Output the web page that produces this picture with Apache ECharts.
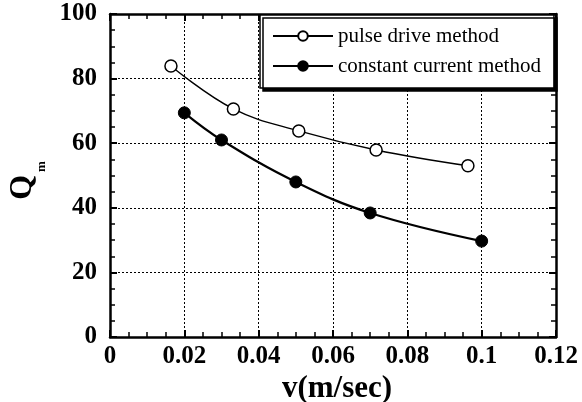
<!DOCTYPE html>
<html>
<head>
<meta charset="utf-8">
<script src="https://cdn.jsdelivr.net/npm/echarts@6/dist/echarts.min.js"></script>
<style>html,body{margin:0;padding:0;background:#fff}#c{width:582px;height:402px}</style>
</head>
<body>
<div id="c"></div>
<script>
const xTicks = [0, 0.02, 0.04, 0.06, 0.08, 0.1, 0.12];
const yTicks = [0, 20, 40, 60, 80, 100];
const pulseV = [0.0164, 0.0332, 0.0508, 0.0716, 0.0963];
const pulseQ = [83.9, 70.6, 63.8, 57.9, 53.0];
const constV = [0.020, 0.030, 0.050, 0.070, 0.100];
const constQ = [69.4, 61.0, 48.0, 38.4, 29.7];
const seriesNames = ['pulse drive method', 'constant current method'];

const FONT = '"Liberation Serif", "Times New Roman", serif';
const chart = echarts.init(document.getElementById('c'), null, {renderer: 'canvas'});

function axisCommon(show) {
  return {
    type: 'value',
    axisLine: {show: true, onZero: false, lineStyle: {color: '#000', width: 2.5}},
    axisTick: {show: true, inside: true, length: 7, lineStyle: {color: '#000', width: 2}},
    minorTick: {show: true, splitNumber: 4, length: 5, lineStyle: {color: '#000', width: 1.5}},
    axisLabel: {show: show, color: '#000', fontFamily: FONT, fontWeight: 'bold', fontSize: 25},
    splitLine: {show: false}
  };
}

const xBottom = Object.assign(axisCommon(true), {
  position: 'bottom', min: xTicks[0], max: xTicks[xTicks.length - 1], interval: 0.02,
  name: 'v(m/sec)', nameLocation: 'middle', nameGap: 33,
  nameTextStyle: {color: '#000', fontFamily: FONT, fontWeight: 'bold', fontSize: 31, padding: [0, 0, 0, 8]},
  splitLine: {show: true, lineStyle: {color: '#000', type: [2, 2], width: 1}}
});
xBottom.axisLabel.margin = 7;
const xTop = Object.assign(axisCommon(false), {
  position: 'top', min: xTicks[0], max: xTicks[xTicks.length - 1], interval: 0.02
});
const yLeft = Object.assign(axisCommon(true), {
  position: 'left', min: yTicks[0], max: yTicks[yTicks.length - 1], interval: 20,
  name: '{q|Q}{m|m}', nameLocation: 'middle', nameGap: 71, nameRotate: 90,
  nameTextStyle: {
    color: '#000', fontFamily: FONT, fontWeight: 'bold', padding: [0, 10, 0, 0],
    rich: {
      q: {fontSize: 32, lineHeight: 32, fontFamily: FONT, fontWeight: 'bold', color: '#000'},
      m: {fontSize: 13, lineHeight: 13, fontFamily: FONT, fontWeight: 'bold', color: '#000', padding: [38, 0, 0, 3]}
    }
  },
  splitLine: {show: true, lineStyle: {color: '#000', type: [2, 2], width: 1}}
});
yLeft.axisLabel.margin = 13;
const yRight = Object.assign(axisCommon(false), {
  position: 'right', min: yTicks[0], max: yTicks[yTicks.length - 1], interval: 20
});

chart.setOption({
  animation: false,
  backgroundColor: '#fff',
  grid: {left: 110, right: 26, top: 14, bottom: 65, containLabel: false, outerBoundsMode: 'none'},
  xAxis: [xBottom, xTop],
  yAxis: [yLeft, yRight],
  legend: {
    orient: 'vertical', left: 260, top: 15,
    padding: [10, 13, 11, 12],
    itemWidth: 60, itemHeight: 12, itemGap: 8,
    backgroundColor: '#fff', borderColor: '#000', borderWidth: 1.5,
    shadowColor: '#000', shadowOffsetX: 3, shadowOffsetY: 3, shadowBlur: 0,
    textStyle: {color: '#000', fontFamily: FONT, fontSize: 21, lineHeight: 22, padding: [0, 0, 0, 0]},
    data: seriesNames
  },
  series: [
    {
      name: seriesNames[0], type: 'line', smooth: 0.4,
      data: pulseV.map((v, i) => [v, pulseQ[i]]),
      symbol: 'circle', symbolSize: 12,
      itemStyle: {color: '#fff', borderColor: '#000', borderWidth: 1.5},
      lineStyle: {color: '#000', width: 1.4},
      z: 3
    },
    {
      name: seriesNames[1], type: 'line', smooth: 0.4,
      data: constV.map((v, i) => [v, constQ[i]]),
      symbol: 'circle', symbolSize: 12,
      itemStyle: {color: '#000', borderColor: '#000', borderWidth: 1},
      lineStyle: {color: '#000', width: 2.2},
      z: 3
    }
  ]
});
</script>
</body>
</html>
